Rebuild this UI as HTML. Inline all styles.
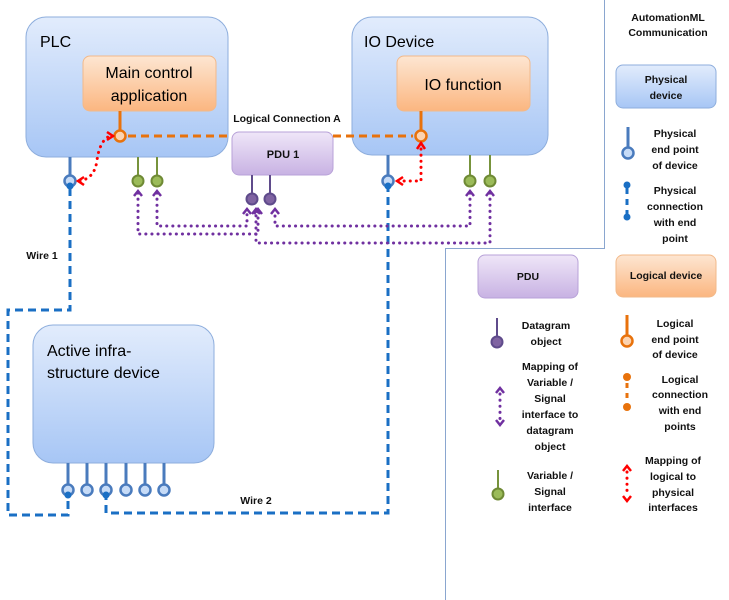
<!DOCTYPE html>
<html><head><meta charset="utf-8"><style>
html,body{margin:0;padding:0;background:#fff;}
svg{display:block;font-family:"Liberation Sans",sans-serif;}
.big{font-size:16px;fill:#000;}
.sm{font-size:10.5px;font-weight:bold;fill:#111;text-anchor:middle;}
</style></head><body>
<svg width="729" height="600" viewBox="0 0 729 600" xmlns="http://www.w3.org/2000/svg">
<defs>
<linearGradient id="bl" x1="0" y1="0" x2="0" y2="1"><stop offset="0" stop-color="#e2ecfc"/><stop offset="1" stop-color="#a7c6f5"/></linearGradient>
<linearGradient id="or" x1="0" y1="0" x2="0" y2="1"><stop offset="0" stop-color="#fde6d2"/><stop offset="1" stop-color="#fbb680"/></linearGradient>
<linearGradient id="pu" x1="0" y1="0" x2="0" y2="1"><stop offset="0" stop-color="#efe6f8"/><stop offset="1" stop-color="#c8b2e3"/></linearGradient>
</defs>
<g stroke="#8aa6cf" stroke-width="1" fill="none">
<line x1="604.5" y1="0" x2="604.5" y2="248"/>
<line x1="445" y1="248.5" x2="605" y2="248.5"/>
<line x1="445.5" y1="248" x2="445.5" y2="600"/>
</g>
<rect x="26" y="17" width="202" height="140" rx="20" fill="url(#bl)" stroke="#8eaedd"/>
<rect x="352" y="17" width="196" height="138" rx="20" fill="url(#bl)" stroke="#8eaedd"/>
<rect x="33" y="325" width="181" height="138" rx="20" fill="url(#bl)" stroke="#8eaedd"/>
<rect x="83" y="56" width="133" height="55" rx="7" fill="url(#or)" stroke="#f2b98a"/>
<rect x="397" y="56" width="133" height="55" rx="7" fill="url(#or)" stroke="#f2b98a"/>
<rect x="232" y="132" width="101" height="43" rx="7" fill="url(#pu)" stroke="#b8a2d8"/>
<text class="big" x="40" y="47">PLC</text>
<text class="big" x="364" y="47">IO Device</text>
<text class="big" x="149" y="78" text-anchor="middle">Main control</text>
<text class="big" x="149" y="101" text-anchor="middle">application</text>
<text class="big" x="463" y="90" text-anchor="middle">IO function</text>
<text class="big" x="47" y="356">Active infra-</text>
<text class="big" x="47" y="378">structure device</text>
<text class="sm" x="283" y="158" style="font-size:11px">PDU 1</text>
<text class="sm" x="287" y="122">Logical Connection A</text>
<text class="sm" x="42" y="259">Wire 1</text>
<text class="sm" x="256" y="504">Wire 2</text>
<g stroke="#1a6fc4" stroke-width="3" fill="none" stroke-dasharray="8,5">
<path d="M70,188 V310 H8 V515 H68 V492"/>
<path d="M106,492 V513 H388 V188"/>
</g>
<g stroke="#e8720c" stroke-width="3" fill="none">
<path d="M128,136 H232" stroke-dasharray="8,5"/>
<path d="M333,136 H413" stroke-dasharray="8,5"/>
<line x1="120" y1="111" x2="120" y2="130"/>
<line x1="421" y1="111" x2="421" y2="130"/>
</g>
<circle cx="120" cy="136" r="5.5" fill="#fcd3b0" stroke="#e8720c" stroke-width="2.5"/>
<circle cx="421" cy="136" r="5.5" fill="#fcd3b0" stroke="#e8720c" stroke-width="2.5"/>
<g stroke="#4a7bbd" stroke-width="3">
<line x1="70" y1="157" x2="70" y2="176"/><line x1="388" y1="155" x2="388" y2="176"/>
<line x1="68" y1="463" x2="68" y2="485"/><line x1="87" y1="463" x2="87" y2="485"/><line x1="106" y1="463" x2="106" y2="485"/><line x1="126" y1="463" x2="126" y2="485"/><line x1="145" y1="463" x2="145" y2="485"/><line x1="164" y1="463" x2="164" y2="485"/>
</g>
<g fill="#c6dbf7" stroke="#4a7bbd" stroke-width="2.5">
<circle cx="70" cy="181" r="5.5"/><circle cx="388" cy="181" r="5.5"/>
<circle cx="68" cy="490" r="5.5"/><circle cx="87" cy="490" r="5.5"/><circle cx="106" cy="490" r="5.5"/><circle cx="126" cy="490" r="5.5"/><circle cx="145" cy="490" r="5.5"/><circle cx="164" cy="490" r="5.5"/>
</g>
<g fill="#1a6fc4"><circle cx="70" cy="186" r="3.5"/><circle cx="388" cy="186" r="3.5"/><circle cx="68" cy="495" r="3.5"/><circle cx="106" cy="495" r="3.5"/></g>
<g stroke="#77933c" stroke-width="2">
<line x1="138" y1="157" x2="138" y2="176"/><line x1="157" y1="157" x2="157" y2="176"/>
<line x1="470" y1="155" x2="470" y2="176"/><line x1="490" y1="155" x2="490" y2="176"/>
</g>
<g fill="#9bbb59" stroke="#6f8a35" stroke-width="2">
<circle cx="138" cy="181" r="5.5"/><circle cx="157" cy="181" r="5.5"/><circle cx="470" cy="181" r="5.5"/><circle cx="490" cy="181" r="5.5"/>
</g>
<g stroke="#5f4b8b" stroke-width="2"><line x1="252" y1="175" x2="252" y2="194"/><line x1="270" y1="175" x2="270" y2="194"/></g>
<g fill="#8064a2" stroke="#5f4b8b" stroke-width="2"><circle cx="252" cy="199" r="5.5"/><circle cx="270" cy="199" r="5.5"/></g>
<g stroke="#7030a0" stroke-width="3" fill="none" stroke-dasharray="0.1,6" stroke-linecap="round">
<path d="M138,193 V234 H258 V210"/>
<path d="M157,193 V226 H247 V210"/>
<path d="M470,193 V226 H275 V210"/>
<path d="M490,193 V243 H256 V210"/>
</g>
<g stroke="#7030a0" stroke-width="2.5" fill="none">
<path d="M134,196 L138,191 L142,196"/><path d="M153,196 L157,191 L161,196"/>
<path d="M466,196 L470,191 L474,196"/><path d="M486,196 L490,191 L494,196"/>
<path d="M243,214 L247,209 L251,214"/><path d="M254,214 L258,209 L262,214"/>
<path d="M252,214 L256,209 L260,214"/><path d="M271,214 L275,209 L279,214"/>
</g>
<g stroke="#ff0000" stroke-width="3" fill="none" stroke-dasharray="0.1,6" stroke-linecap="round">
<path d="M80,181 Q95,178 97,160 Q100,140 110,136"/>
<path d="M398,181 H421 V145"/>
</g>
<g stroke="#ff0000" stroke-width="2.5" fill="none">
<path d="M84,177 L78,181 L84,185"/><path d="M107,132 L113,136 L107,140"/>
<path d="M403,177 L397,181 L403,185"/><path d="M417,149 L421,143 L425,149"/>
</g>
<text class="sm" x="668" y="21">AutomationML</text>
<text class="sm" x="668" y="36">Communication</text>
<rect x="616" y="65" width="100" height="43" rx="7" fill="url(#bl)" stroke="#8eaedd"/>
<text class="sm" x="666" y="83">Physical</text><text class="sm" x="666" y="99">device</text>
<line x1="628" y1="127" x2="628" y2="147" stroke="#4a7bbd" stroke-width="3"/>
<circle cx="628" cy="153" r="5.5" fill="#c6dbf7" stroke="#4a7bbd" stroke-width="2.5"/>
<text class="sm" x="675" y="137">Physical</text><text class="sm" x="675" y="153">end point</text><text class="sm" x="675" y="169">of device</text>
<circle cx="627" cy="185" r="3.5" fill="#1a6fc4"/><circle cx="627" cy="217" r="3.5" fill="#1a6fc4"/>
<line x1="627" y1="188" x2="627" y2="214" stroke="#1a6fc4" stroke-width="3" stroke-dasharray="6,5"/>
<text class="sm" x="675" y="194">Physical</text><text class="sm" x="675" y="210">connection</text><text class="sm" x="675" y="226">with end</text><text class="sm" x="675" y="242">point</text>
<rect x="478" y="255" width="100" height="43" rx="7" fill="url(#pu)" stroke="#b8a2d8"/>
<text class="sm" x="528" y="280">PDU</text>
<rect x="616" y="255" width="100" height="42" rx="7" fill="url(#or)" stroke="#f2b98a"/>
<text class="sm" x="666" y="279">Logical device</text>
<line x1="497" y1="318" x2="497" y2="337" stroke="#5f4b8b" stroke-width="2"/>
<circle cx="497" cy="342" r="5.5" fill="#8064a2" stroke="#5f4b8b" stroke-width="2"/>
<text class="sm" x="546" y="329">Datagram</text><text class="sm" x="546" y="345">object</text>
<line x1="500" y1="394" x2="500" y2="420" stroke="#7030a0" stroke-width="3" stroke-dasharray="0.1,6" stroke-linecap="round"/>
<path d="M496,393 L500,388 L504,393 M496,420 L500,425 L504,420" stroke="#7030a0" stroke-width="2.5" fill="none"/>
<text class="sm" x="550" y="370">Mapping of</text><text class="sm" x="550" y="386">Variable /</text><text class="sm" x="550" y="402">Signal</text><text class="sm" x="550" y="418">interface to</text><text class="sm" x="550" y="434">datagram</text><text class="sm" x="550" y="450">object</text>
<line x1="498" y1="470" x2="498" y2="490" stroke="#77933c" stroke-width="2"/>
<circle cx="498" cy="494" r="5.5" fill="#9bbb59" stroke="#6f8a35" stroke-width="2"/>
<text class="sm" x="550" y="479">Variable /</text><text class="sm" x="550" y="495">Signal</text><text class="sm" x="550" y="511">interface</text>
<line x1="627" y1="315" x2="627" y2="335" stroke="#e8720c" stroke-width="3"/>
<circle cx="627" cy="341" r="5.5" fill="#fcd3b0" stroke="#e8720c" stroke-width="2.5"/>
<text class="sm" x="675" y="327">Logical</text><text class="sm" x="675" y="343">end point</text><text class="sm" x="675" y="358">of device</text>
<circle cx="627" cy="377" r="4" fill="#e8720c"/><circle cx="627" cy="407" r="4" fill="#e8720c"/>
<line x1="627" y1="383" x2="627" y2="401" stroke="#e8720c" stroke-width="3" stroke-dasharray="5,5"/>
<text class="sm" x="680" y="383">Logical</text><text class="sm" x="680" y="398">connection</text><text class="sm" x="680" y="414">with end</text><text class="sm" x="680" y="430">points</text>
<line x1="627" y1="472" x2="627" y2="496" stroke="#ff0000" stroke-width="3" stroke-dasharray="0.1,6" stroke-linecap="round"/>
<path d="M623,471 L627,466 L631,471 M623,496 L627,501 L631,496" stroke="#ff0000" stroke-width="2.5" fill="none"/>
<text class="sm" x="673" y="464">Mapping of</text><text class="sm" x="673" y="480">logical to</text><text class="sm" x="673" y="496">physical</text><text class="sm" x="673" y="511">interfaces</text>
</svg>
</body></html>
